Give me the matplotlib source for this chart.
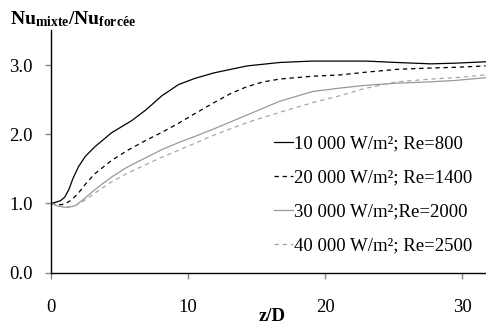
import matplotlib
matplotlib.use("Agg")
import matplotlib.pyplot as plt

plt.rcParams['font.family'] = ['Liberation Serif', 'DejaVu Serif']
plt.rcParams['mathtext.fontset'] = 'custom'
plt.rcParams['mathtext.rm'] = 'Liberation Serif'
plt.rcParams['mathtext.bf'] = 'Liberation Serif:bold'
plt.rcParams['mathtext.it'] = 'Liberation Serif:italic'

labels = ["10 000 W/m²; Re=800", "20 000 W/m²; Re=1400",
          "30 000 W/m²;Re=2000", "40 000 W/m²; Re=2500"]

x1 = [0, 0.4, 0.7, 1.0, 1.3, 1.6, 2.0, 2.5, 3.2, 4.4, 5.9, 6.9, 8.1, 9.3, 10.5, 11.9, 14.3, 16.7, 19.0, 21.1, 23.0, 25.2, 27.7, 29.5, 31.7]
y1 = [1.0, 1.02, 1.04, 1.09, 1.2, 1.36, 1.53, 1.68, 1.82, 2.02, 2.2, 2.35, 2.56, 2.72, 2.81, 2.89, 2.99, 3.04, 3.06, 3.06, 3.06, 3.04, 3.02, 3.03, 3.05]

x2 = [0, 0.5, 1.0, 1.5, 2.0, 2.6, 3.2, 4.4, 5.6, 6.9, 8.1, 9.3, 10.5, 11.9, 13.1, 14.3, 15.5, 16.7, 19.0, 21.1, 23.0, 25.2, 27.7, 29.5, 31.7]
y2 = [1.0, 0.98, 0.99, 1.05, 1.15, 1.3, 1.43, 1.62, 1.77, 1.91, 2.03, 2.16, 2.30, 2.46, 2.59, 2.69, 2.76, 2.80, 2.84, 2.86, 2.90, 2.94, 2.96, 2.97, 2.99]

x3 = [0, 0.5, 1.2, 1.8, 2.5, 3.2, 4.4, 5.6, 6.9, 8.1, 9.3, 10.5, 11.9, 14.3, 16.7, 19.1, 21.1, 23.0, 25.2, 27.7, 29.5, 31.7]
y3 = [1.0, 0.96, 0.94, 0.97, 1.08, 1.2, 1.38, 1.53, 1.66, 1.78, 1.88, 1.97, 2.08, 2.28, 2.48, 2.62, 2.67, 2.71, 2.74, 2.76, 2.78, 2.82]

x4 = [0, 0.5, 1.2, 1.8, 2.5, 3.2, 4.4, 5.6, 6.9, 8.1, 9.3, 10.5, 11.9, 14.3, 16.7, 19.1, 21.1, 22.8, 25.2, 27.7, 29.5, 31.7]
y4 = [1.0, 0.97, 0.95, 0.97, 1.05, 1.15, 1.31, 1.44, 1.56, 1.67, 1.77, 1.87, 1.99, 2.17, 2.32, 2.46, 2.56, 2.66, 2.76, 2.80, 2.82, 2.86]

xticks = [0, 10, 20, 30]
yticks = [0.0, 1.0, 2.0, 3.0]
ytick_labels = ["0.0", "1.0", "2.0", "3.0"]

fs = 13.5

fig = plt.figure(figsize=(4.86, 3.24), dpi=100)
ax = fig.add_axes([51/486, 1 - 272.5/324, 435/486, 242.5/324])

ax.plot(x1, y1, color='black', lw=0.9, ls='-', label=labels[0])
ax.plot(x2, y2, color='black', lw=0.9, ls=(0, (3.5, 3)), label=labels[1])
ax.plot(x3, y3, color='#999999', lw=0.9, ls='-', label=labels[2])
ax.plot(x4, y4, color='#a8a8a8', lw=0.9, ls=(0, (3.5, 3)), label=labels[3])

ax.set_xlim(0, 31.73)
ax.set_ylim(0, 3.51)
ax.set_xticks(xticks)
ax.set_yticks(yticks)
ax.set_yticklabels(ytick_labels)

for s in ['top', 'right']:
    ax.spines[s].set_visible(False)
for s in ['left', 'bottom']:
    ax.spines[s].set_linewidth(1.0)
    ax.spines[s].set_color('black')

ax.tick_params(axis='x', direction='out', length=4, width=1, color='#888888',
               pad=15, labelsize=fs)
ax.tick_params(axis='y', direction='out', length=4, width=1, color='#888888',
               pad=9, labelsize=fs)

ax.set_xlabel('z/D', fontsize=fs, fontweight='bold')
ax.xaxis.set_label_coords(0.508, -0.145)

fig.text(10/486, 1 - 19/324, r'$\mathbf{Nu_{mixte}/Nu_{forc\acute{e}e}}$',
         fontsize=14, va='center', ha='left')

leg = ax.legend(loc='upper left', bbox_to_anchor=((274 - 51)/435, 1 - (135 - 30)/242.5),
                frameon=False, fontsize=fs, handlelength=1.0, handletextpad=0.05,
                labelspacing=0.9, borderaxespad=0, borderpad=0)

fig.savefig('out.png', dpi=100)
